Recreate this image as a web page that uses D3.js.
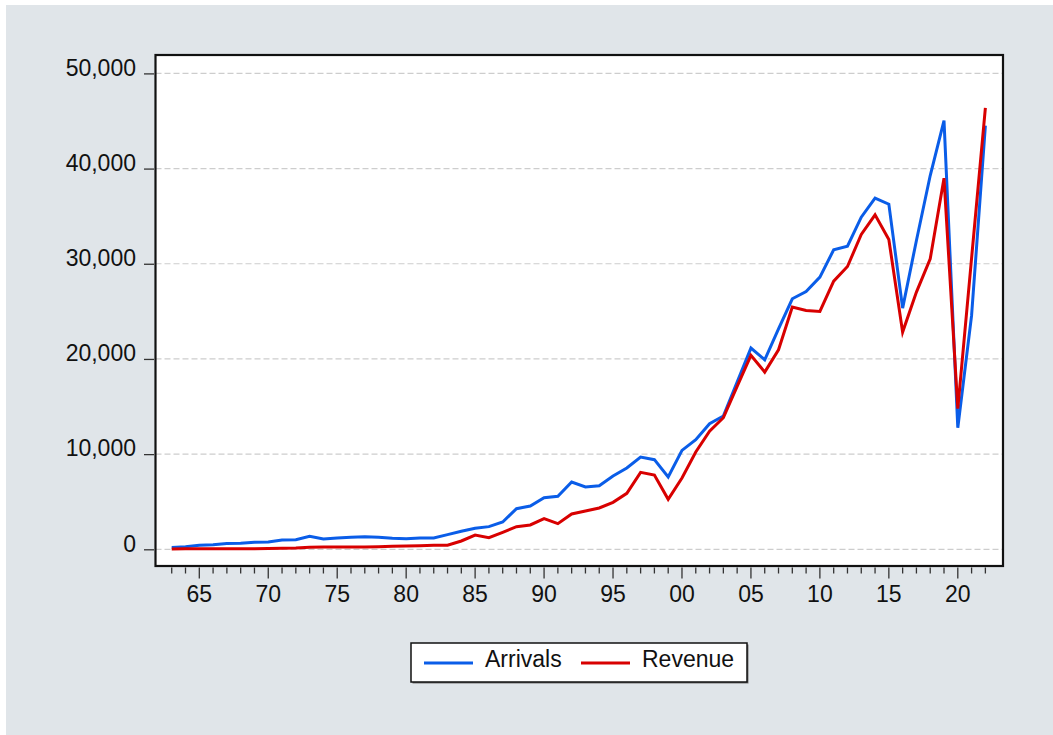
<!DOCTYPE html>
<html>
<head>
<meta charset="utf-8">
<script src="https://cdn.jsdelivr.net/npm/d3@7"></script>
<style>
  html, body { margin: 0; padding: 0; background: #ffffff; }
  svg { display: block; }
  text { font-family: "Liberation Sans", Arial, sans-serif; fill: #111; }
</style>
</head>
<body>
<svg id="chart" width="1053" height="735"></svg>
<script>
// Annual series, 1963-2022
const years = d3.range(1963, 2023);

const arrivals = [
  200, 280, 420, 490, 600, 630, 735, 770, 980, 1015,
  1365, 1085, 1190, 1260, 1330, 1260, 1160, 1120, 1200, 1200,
  1540, 1890, 2205, 2380, 2870, 4270, 4550, 5425, 5565, 7070,
  6545, 6685, 7700, 8540, 9695, 9415, 7595, 10395, 11515, 13200,
  14000, 17570, 21140, 19915, 23170, 26320, 27090, 28595, 31465, 31850,
  34895, 36890, 36260, 25340, 32445, 39270, 45045, 12775, 24570, 44520
];

const revenue = [
  30, 50, 55, 60, 60, 65, 70, 75, 105, 140,
  210, 245, 245, 245, 250, 280, 315, 350, 385, 420,
  420, 875, 1500, 1225, 1785, 2380, 2555, 3220, 2695, 3710,
  4025, 4340, 4935, 5880, 8085, 7805, 5250, 7490, 10220, 12400,
  13825, 17115, 20370, 18620, 20965, 25445, 25095, 24990, 28175, 29715,
  33075, 35140, 32550, 22820, 27020, 30520, 38990, 14770, 30600, 46375
];

const yTicks = [0, 10000, 20000, 30000, 40000, 50000];
const majorYears = d3.range(1965, 2023, 5);

const series = [
  { name: "Arrivals", values: arrivals, color: "#0a5de8" },
  { name: "Revenue",  values: revenue,  color: "#d80000" }
];

// Layout
const W = 1053, H = 735;
const frame = { left: 155.5, right: 1003, top: 55, bottom: 566 };

const svg = d3.select("#chart");

// Page background
svg.append("rect").attr("x", 6).attr("y", 5).attr("width", W - 6).attr("height", H - 5)
  .attr("fill", "#e0e5e9");

// Scales
const x = d3.scaleLinear().domain([1965, 2020]).range([199.3, 957.8]);
const y = d3.scaleLinear().domain([0, 50000]).range([549.3, 73.4]);

// Plot panel
svg.append("rect")
  .attr("x", frame.left).attr("y", frame.top)
  .attr("width", frame.right - frame.left).attr("height", frame.bottom - frame.top)
  .attr("fill", "#ffffff");

// Horizontal dashed grid
svg.append("g").selectAll("line").data(yTicks).join("line")
  .attr("x1", frame.left).attr("x2", frame.right)
  .attr("y1", d => y(d)).attr("y2", d => y(d))
  .attr("stroke", "#cdcdcd").attr("stroke-width", 1.2)
  .attr("stroke-dasharray", "6,3");

// Y axis ticks and labels
const yAxis = d3.axisLeft(y).tickValues(yTicks).tickSize(10).tickPadding(8)
  .tickFormat(d3.format(","));
const gy = svg.append("g").attr("transform", `translate(${frame.left - 1.5},0)`).call(yAxis);
gy.select(".domain").remove();
gy.selectAll(".tick line").attr("stroke", "#333").attr("stroke-width", 1.3);
gy.selectAll(".tick text")
  .attr("font-size", 23).attr("dy", "0.08em")
  .attr("font-family", "'Liberation Sans', Arial, sans-serif").attr("fill", "#111");

// X axis: minor ticks each year, longer ticks every five years
const gx = svg.append("g").attr("transform", `translate(0,${frame.bottom + 1.5})`);
gx.selectAll("line.minor").data(years).join("line")
  .attr("class", "minor")
  .attr("x1", d => x(d)).attr("x2", d => x(d))
  .attr("y1", 0).attr("y2", d => (d % 5 === 0 ? 11 : 6))
  .attr("stroke", "#333").attr("stroke-width", 1.3);
gx.selectAll("text").data(majorYears).join("text")
  .attr("x", d => x(d)).attr("y", 34.5)
  .attr("text-anchor", "middle").attr("font-size", 23)
  .text(d => String(d % 100).padStart(2, "0"));

// Series lines (Revenue on top)
const line = d3.line().x((d, i) => x(years[i])).y(d => y(d));
svg.append("g").selectAll("path").data(series).join("path")
  .attr("d", s => line(s.values))
  .attr("fill", "none").attr("stroke", s => s.color)
  .attr("stroke-width", 3).attr("stroke-linejoin", "miter").attr("stroke-miterlimit", 6);

// Frame
svg.append("rect")
  .attr("x", frame.left).attr("y", frame.top)
  .attr("width", frame.right - frame.left).attr("height", frame.bottom - frame.top)
  .attr("fill", "none").attr("stroke", "#111").attr("stroke-width", 2.2);

// Legend
const lg = { x: 411, y: 643, w: 336, h: 39 };
const legend = svg.append("g");
legend.append("rect")
  .attr("x", lg.x + 1.5).attr("y", lg.y + 1.5).attr("width", lg.w).attr("height", lg.h)
  .attr("fill", "#777");
legend.append("rect")
  .attr("x", lg.x).attr("y", lg.y).attr("width", lg.w).attr("height", lg.h)
  .attr("fill", "#ffffff").attr("stroke", "#111").attr("stroke-width", 1.5);
const items = legend.selectAll("g.item").data(series).join("g")
  .attr("class", "item")
  .attr("transform", (d, i) => `translate(${[424, 581][i]},${lg.y + 20})`);
items.append("line").attr("x1", 0).attr("x2", 49).attr("y1", 0).attr("y2", 0)
  .attr("stroke", d => d.color).attr("stroke-width", 3);
items.append("text").attr("x", 61).attr("y", 4).attr("font-size", 23)
  .text(d => d.name);
</script>
</body>
</html>
